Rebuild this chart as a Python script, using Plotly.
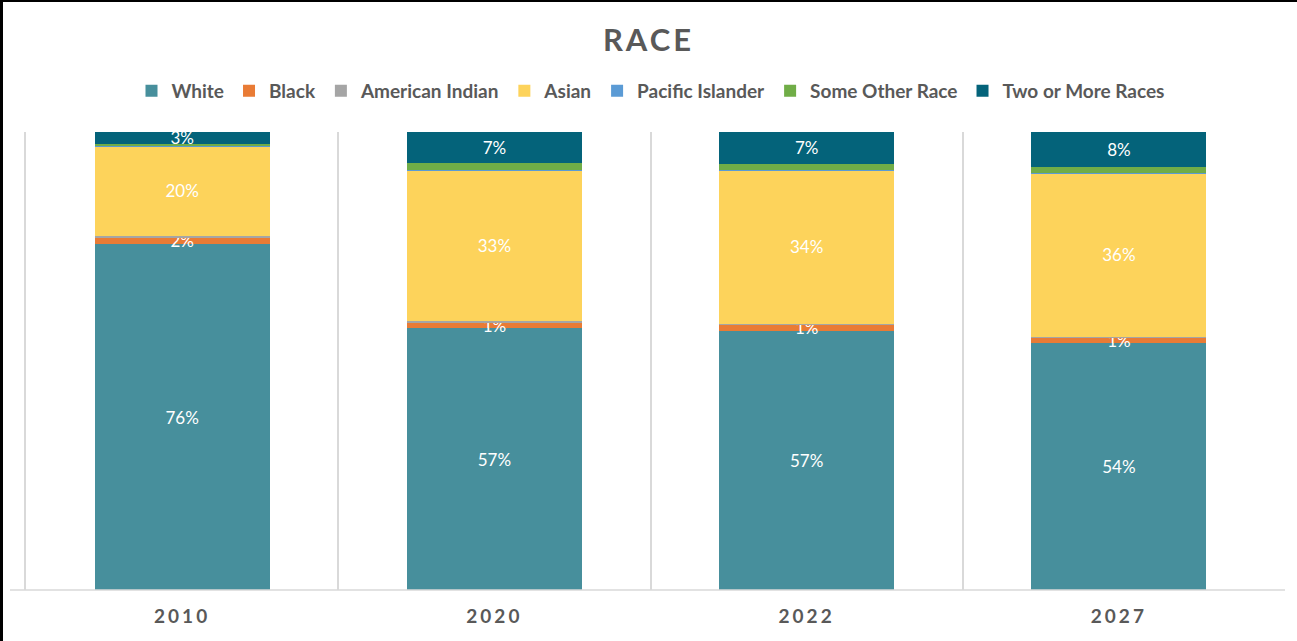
import plotly.graph_objects as go

years = ["2010", "2020", "2022", "2027"]
series_names = ["White", "Black", "American Indian", "Asian", "Pacific Islander",
                "Some Other Race", "Two or More Races"]
white = [75.52, 57.2, 56.6, 53.9]
black = [1.55, 1.3, 1.3, 1.3]
american_indian = [0.25, 0.2, 0.2, 0.15]
asian = [19.6, 33.0, 33.6, 35.65]
pacific_islander = [0.05, 0.1, 0.1, 0.1]
some_other = [0.52, 1.4, 1.3, 1.3]
two_or_more = [2.51, 6.8, 6.9, 7.6]
labelled = [True, True, False, True, False, False, True]

colors = ["#478f9c", "#e97b35", "#a5a5a5", "#fdd35b", "#5b9bd5", "#70ad47", "#04637a"]
all_values = [white, black, american_indian, asian, pacific_islander, some_other, two_or_more]

W, H = 1297, 641
ml, mr, mt, mb = 26, 22, 132, 51
pw = W - ml - mr
ph = H - mt - mb


def px_x(x):
    return (x - ml) / pw


def px_y(y):
    return 1 - (y - mt) / ph


fig = go.Figure()
for name, vals, col, lab in zip(series_names, all_values, colors, labelled):
    fig.add_trace(go.Bar(
        name=name, x=years, y=vals, marker=dict(color=col, line=dict(width=0)),
        text=[f"{v:.0f}%" for v in vals] if lab else None,
        textposition="inside" if lab else "none",
        insidetextanchor="middle",
        constraintext="none",
        textfont=dict(color="white", size=17, family="Lato"),
        hoverinfo="skip",
    ))

sp = '<span style="letter-spacing:3px">'
fig.update_layout(
    width=W, height=H,
    barmode="stack", bargap=0.44,
    paper_bgcolor="white", plot_bgcolor="white",
    margin=dict(l=ml, r=mr, t=mt, b=mb, pad=0),
    title=dict(text=f"<b>{sp}RACE</span></b>", x=0.5, xanchor="center", y=1 - 40 / H, yanchor="middle",
               font=dict(family="Lato", size=31, color="#595959")),
    legend=dict(orientation="h", x=0.5, xanchor="center", y=px_y(91), yanchor="middle",
                font=dict(family="Lato", size=19, color="#595959", weight="bold"), traceorder="normal",
                itemclick=False, itemdoubleclick=False, tracegroupgap=0, itemwidth=30),
    xaxis=dict(type="category", showline=False,
               showgrid=True, gridcolor="#d9d9d9", gridwidth=1.5, tickson="boundaries",
               ticks="", ticklabelstandoff=13,
               tickfont=dict(family="Lato", size=19, color="#595959"),
               tickvals=years, ticktext=[f"<b>{sp}{y}</span></b>" for y in years]),
    yaxis=dict(range=[0, 100], showline=True, linecolor="#d9d9d9", linewidth=1.5,
               showticklabels=False, showgrid=False, zeroline=False, ticks=""),
    shapes=[
        dict(type="line", xref="paper", yref="paper", x0=px_x(10), x1=px_x(1285),
             y0=0, y1=0, line=dict(color="#d9d9d9", width=1.5)),
        dict(type="rect", xref="paper", yref="paper", x0=px_x(0), x1=px_x(W),
             y0=px_y(2), y1=px_y(0), fillcolor="black", line=dict(width=0)),
        dict(type="rect", xref="paper", yref="paper", x0=px_x(0), x1=px_x(3),
             y0=px_y(H), y1=px_y(0), fillcolor="black", line=dict(width=0)),
    ],
)

fig.write_html("out.html", config={"displayModeBar": False},
               post_script="document.body.style.margin='0';document.body.style.padding='0';")
